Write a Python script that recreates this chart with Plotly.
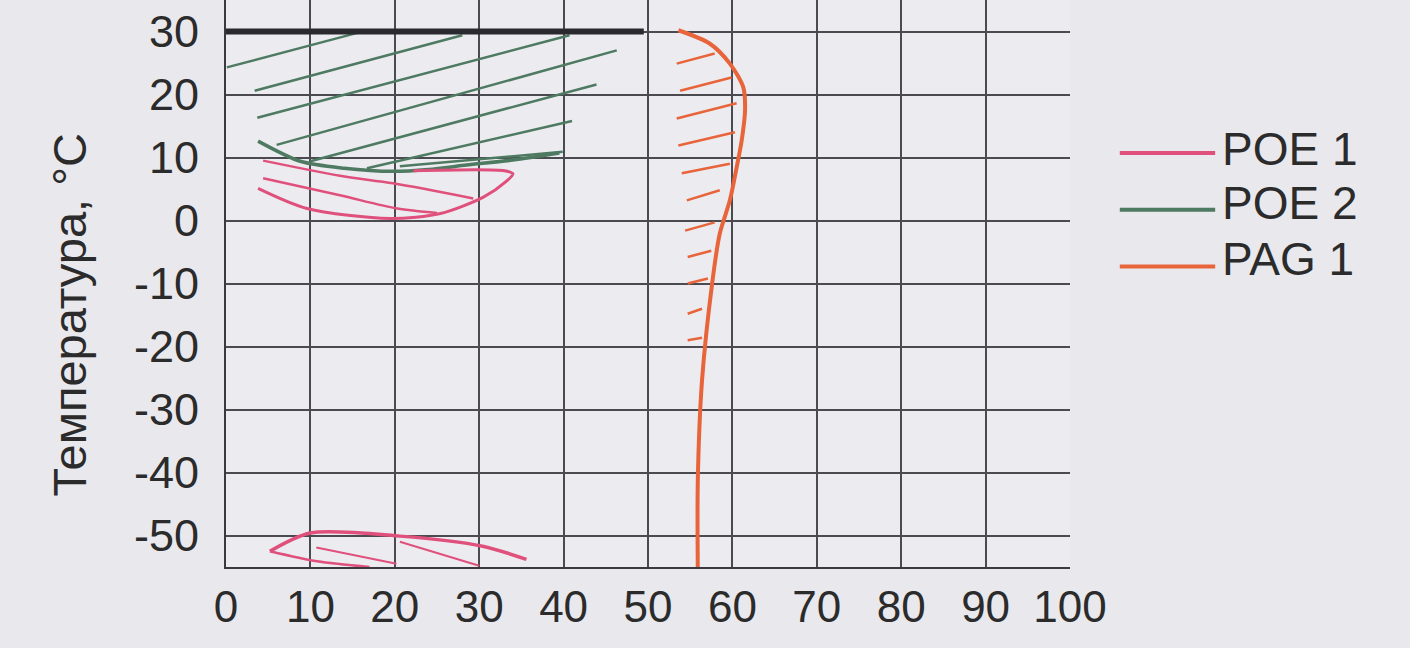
import plotly.graph_objects as go

# Oil concentration, % (x) vs temperature, °C (y)
series_names = ["POE 1", "POE 2", "PAG 1"]
series_colors = {"POE 1": "#e0507c", "POE 2": "#4e7a62", "PAG 1": "#e8643a"}

x_ticks = list(range(0, 101, 10))
y_ticks = [30, 20, 10, 0, -10, -20, -30, -40, -50]
y_ticklabels = ["30", "20", "10", "0", "-10", "-20", "-30", "-40", "-50"]

# POE 1 - upper miscibility gap (outer boundary)
poe1_upper_x = [22.2, 33.0, 34.0, 33.2, 30.5, 25.4, 19.4, 9.6, 3.8]
poe1_upper_y = [7.9, 7.9, 7.4, 6.2, 3.7, 1.1, 0.3, 1.9, 5.1]
# inner curved hatch lines of the upper gap
poe1_inner1_x = [4.4, 13.5, 19.8, 29.3]
poe1_inner1_y = [9.5, 7.1, 5.9, 3.5]
poe1_inner2_x = [4.4, 13.5, 20.3, 25.0]
poe1_inner2_y = [6.7, 4.0, 1.9, 1.2]
# POE 1 - lower miscibility gap
poe1_lower_x = [5.2, 10.0, 20.6, 30.4, 35.6]
poe1_lower_y = [-52.5, -49.6, -50.1, -51.7, -53.8]
poe1_lower_edge_x = [5.2, 10.8, 17.0]
poe1_lower_edge_y = [-52.5, -54.1, -55.0]
# straight hatch segments (x0, y0, x1, y1)
poe1_hatch = [
    (10.7, -51.9, 20.2, -54.5),
    (20.6, -51.0, 30.0, -54.8),
]

# POE 2 - lower boundary of the immiscible zone
poe2_x = [3.8, 8.8, 14.0, 19.8, 24.0, 28.5, 34.0, 39.5]
poe2_y = [12.6, 9.4, 8.3, 7.8, 8.1, 8.8, 9.6, 10.7]
# top boundary at 30 °C
top_x = [0, 49.5]
top_y = [30, 30]
poe2_hatch = [
    (0.1, 24.3, 15.9, 29.9),
    (3.4, 20.6, 28.0, 29.4),
    (3.7, 16.3, 40.7, 29.4),
    (6.0, 12.0, 46.3, 27.0),
    (10.0, 9.4, 43.9, 21.6),
    (16.7, 8.3, 41.0, 15.8),
    (20.6, 8.6, 39.9, 10.9),
]

# PAG 1 boundary
pag1_x = [53.6, 57.3, 59.7, 61.3, 61.5, 61.1, 60.5, 59.7, 58.5, 57.6, 56.4, 55.9, 55.9]
pag1_y = [30.2, 28.1, 24.9, 21.1, 17.5, 12.7, 8.4, 3.2, -2.1, -10.0, -25.4, -41.3, -55.6]
pag1_hatch = [
    (53.4, 24.9, 57.9, 26.5),
    (53.8, 20.6, 59.9, 22.7),
    (53.4, 16.2, 60.5, 18.6),
    (53.6, 11.9, 60.3, 14.0),
    (54.0, 7.5, 59.7, 9.0),
    (54.6, 3.2, 58.5, 4.8),
    (54.4, -1.6, 57.9, -0.3),
    (54.7, -5.8, 57.5, -4.8),
    (54.7, -10.0, 57.1, -9.2),
    (54.7, -14.8, 56.4, -14.0),
    (54.7, -19.0, 56.4, -18.6),
]


def hatch_xy(segs):
    xs, ys = [], []
    for x0, y0, x1, y1 in segs:
        xs += [x0, x1, None]
        ys += [y0, y1, None]
    return xs, ys


fig = go.Figure()

def add_line(x, y, color, width, name=None, spline=True):
    fig.add_trace(go.Scatter(x=x, y=y, mode="lines", name=name or "",
                             line=dict(color=color, width=width,
                                       shape="spline" if spline else "linear", smoothing=0.8),
                             showlegend=False, hoverinfo="skip"))

c1, c2, c3 = (series_colors[n] for n in series_names)

# POE 2
hx, hy = hatch_xy(poe2_hatch)
add_line(hx, hy, c2, 2.5, spline=False)
add_line(poe2_x, poe2_y, c2, 3.5, "POE 2")
add_line(top_x, top_y, "#2a2a2e", 6, spline=False)

# POE 1
hx, hy = hatch_xy(poe1_hatch)
add_line(hx, hy, c1, 2, spline=False)
add_line(poe1_inner1_x, poe1_inner1_y, c1, 2.5)
add_line(poe1_inner2_x, poe1_inner2_y, c1, 2.5)
add_line(poe1_upper_x, poe1_upper_y, c1, 3, "POE 1")
add_line(poe1_lower_x, poe1_lower_y, c1, 3.5, "POE 1")
add_line(poe1_lower_edge_x, poe1_lower_edge_y, c1, 2.5, "POE 1")

# PAG 1
hx, hy = hatch_xy(pag1_hatch)
add_line(hx, hy, c3, 2.5, spline=False)
add_line(pag1_x, pag1_y, c3, 4, "PAG 1")

# legend drawn by hand: long line samples to the left of the names
leg_text_y = [0.737, 0.642, 0.543]
leg_line_y = [0.730, 0.630, 0.530]
for name, ty, ly in zip(series_names, leg_text_y, leg_line_y):
    fig.add_shape(type="line", xref="paper", yref="paper", x0=1.059, x1=1.172, y0=ly, y1=ly,
                  line=dict(color=series_colors[name], width=4))
    fig.add_annotation(x=1.178, y=ty, xref="paper", yref="paper", text=name, showarrow=False,
                       xanchor="left", yanchor="middle", font=dict(size=46, color="#2b2b2b"))

# y-axis title
fig.add_annotation(x=-0.185, y=0.445, xref="paper", yref="paper", text="Температура, °C",
                   textangle=-90, showarrow=False, xanchor="center", yanchor="middle",
                   font=dict(size=47, color="#2b2b2b"))

fig.update_xaxes(range=[0, 100], tickvals=x_ticks, showgrid=True, gridcolor="#4a4a50", gridwidth=1.5,
                 zeroline=False, showline=True, linecolor="#3a3a3e", linewidth=2,
                 tickfont=dict(size=44, color="#2b2b2b"), ticks="")
fig.update_yaxes(range=[-55, 35], tickvals=y_ticks, ticktext=y_ticklabels,
                 showgrid=True, gridcolor="#4a4a50", gridwidth=1.5,
                 zeroline=False, showline=True, linecolor="#3a3a3e", linewidth=2,
                 tickfont=dict(size=45, color="#2b2b2b"), ticks="", ticklabelstandoff=16)

fig.update_layout(
    width=1410, height=648,
    margin=dict(l=226, r=340, t=0, b=81),
    paper_bgcolor="#e8e8ed",
    plot_bgcolor="#ececf0",
    font=dict(family="Liberation Sans, Arial, sans-serif"),
    showlegend=False,
)

fig.write_html("out.html", config={"displayModeBar": False},
               post_script="document.body.style.margin='0';")
